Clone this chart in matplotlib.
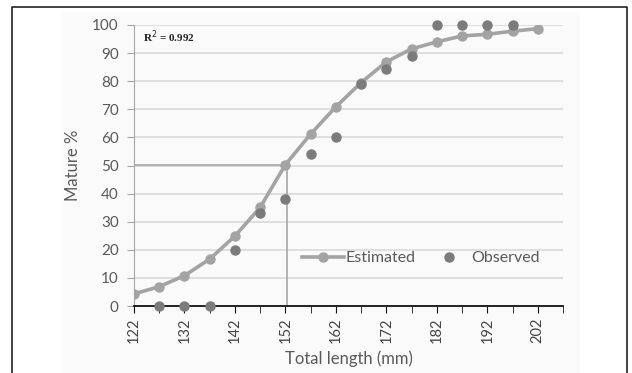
import numpy as np
import matplotlib.pyplot as plt
from matplotlib.lines import Line2D
from matplotlib.patches import Rectangle

# 数据
lengths = [122, 127, 132, 137, 142, 147, 152, 157, 162, 167, 172, 177, 182, 187, 192, 197, 202]
estimated = [4.3, 6.9, 10.8, 16.7, 24.9, 35.1, 50.3, 61.2, 70.9, 79.5, 86.9, 91.5, 94.0, 96.1, 96.7, 97.8, 98.7]
obs_lengths = [127, 132, 137, 142, 147, 152, 157, 162, 167, 172, 177, 182, 187, 192, 197]
observed = [0, 0, 0, 20, 33.2, 38, 54, 60.2, 79, 84.5, 88.8, 100, 100, 100, 100]
l50 = 152.4
r2_text = "R$^2$ = 0.992"
x_ticks = [122, 132, 142, 152, 162, 172, 182, 192, 202]

plt.rcParams['font.family'] = ['Lato', 'DejaVu Sans']
txt = '#595959'

W, H = 632, 373
fig = plt.figure(figsize=(W / 100, H / 100), dpi=100)
# 外框和图表区背景
fig.add_artist(Rectangle((62 / W, 0), (580 - 62) / W, 1 - 12 / H,
                         transform=fig.transFigure, facecolor='#fafafa',
                         edgecolor='none', zorder=-5))
frame_x = [12 / W, 12 / W, 627 / W, 627 / W]
frame_y = [0, 1 - 7 / H, 1 - 7 / H, 0]
fig.add_artist(Line2D(frame_x, frame_y, transform=fig.transFigure, color='#222222', lw=1.2,
                      zorder=-4))

ax = fig.add_axes([134 / W, 67 / H, 429 / W, 281 / H])
ax.set_facecolor('none')
ax.set_xlim(122, 207)
ax.set_ylim(0, 100)

# 网格
for v in range(10, 101, 10):
    ax.axhline(v, color='#d9d9d9', lw=1.2, zorder=1)

# 50% 辅助线
ax.plot([122, l50], [50.3, 50.3], color='#a6a6a6', lw=1.2, zorder=2)
ax.plot([l50, l50], [0, 50.3], color='#a6a6a6', lw=1.2, zorder=2)

ax.plot(lengths, estimated, color='#a3a3a3', lw=2.6, marker='o', ms=6.5,
        label='Estimated', zorder=3)
ax.plot(obs_lengths, observed, ls='none', marker='o', color='#7b7b7b', ms=6.5,
        label='Observed', zorder=4, clip_on=False)

ax.text(0.021, 95.8, r2_text, fontsize=8, fontweight='bold', family='Liberation Serif',
        va='center', ha='left', color='#222222', transform=ax.get_yaxis_transform())

for s in ['top', 'right']:
    ax.spines[s].set_visible(False)
ax.spines['left'].set_color('#a6a6a6')
ax.spines['bottom'].set_color('#111111')
ax.spines['bottom'].set_linewidth(1.3)

ax.set_yticks(range(0, 101, 10))
ax.set_xticks(x_ticks)
ax.set_xticks(np.arange(122, 208, 5), minor=True)
ax.set_xticklabels([str(t) for t in x_ticks], rotation=90)
ax.tick_params(axis='y', colors='#a6a6a6', labelcolor=txt, labelsize=11, length=5, pad=6)
ax.tick_params(axis='x', which='both', colors='#111111', labelcolor='#444444', labelsize=10.5,
               length=5, direction='out')
ax.tick_params(axis='x', which='minor', labelbottom=False)

ax.set_ylabel('Mature %', color=txt, fontsize=12, labelpad=8)
ax.set_xlabel('Total length (mm)', color=txt, fontsize=12, labelpad=5)

ax.legend(loc='center', bbox_to_anchor=(0.669, 0.17), ncol=2, frameon=False,
          fontsize=11.5, labelcolor=txt, handlelength=2.6, handletextpad=0.1,
          columnspacing=0.8)

fig.savefig('out.png', dpi=100)
